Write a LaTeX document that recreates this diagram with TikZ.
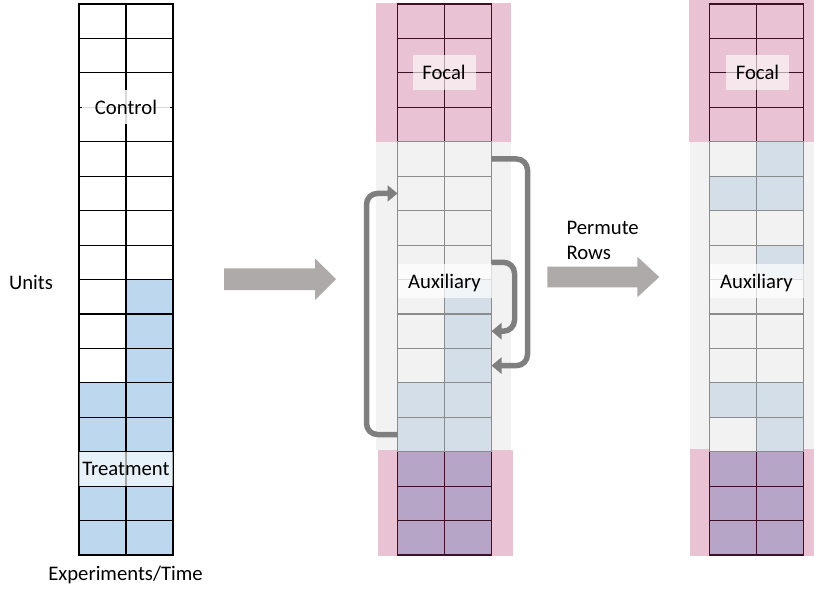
\documentclass[tikz,border=0pt]{standalone}
\usepackage{fontspec}
\setmainfont{Carlito}
\usetikzlibrary{arrows.meta}

\definecolor{treatblue}{HTML}{BDD7EE}
\definecolor{auxblue}{HTML}{D3DEE9}
\definecolor{focalpink}{HTML}{E9C3D3}
\definecolor{auxgray}{HTML}{F2F2F2}
\definecolor{treatpurple}{HTML}{B7A5C8}
\definecolor{darkmaroon}{HTML}{3D1026}
\definecolor{linegray}{HTML}{8C8C8C}
\definecolor{loopgray}{HTML}{7F7F7F}
\definecolor{biggray}{HTML}{AEAAAA}

\tikzset{
  cell/.style={draw=#1, line width=1.1pt, minimum width=47pt, minimum height=34.44pt,
    inner sep=0pt, outer sep=0pt},
  tag/.style={fill=white, fill opacity=#1, text opacity=1, inner sep=0pt, text depth=0pt},
  loop/.style={draw=loopgray, line width=5.5pt, rounded corners=11pt,
    -{Triangle[length=10pt,width=16pt]}}
}

\begin{document}
\begin{tikzpicture}[x=1pt, y=-1pt, font=\fontsize{20.7}{25}\selectfont]
    \useasboundingbox (0,0) rectangle (814,592);

    % backgrounds
    \fill[focalpink] (376,3) rectangle (511,141.7);
    \fill[auxgray] (376,141.7) rectangle (511,450);
    \fill[focalpink] (377.7,450) rectangle (512.7,555.7);
    \fill[focalpink] (689,0) rectangle (814,141.7);
    \fill[auxgray] (690,141.7) rectangle (814,449);
    \fill[focalpink] (690,449) rectangle (814,555.7);

    % original panel
    \foreach \r/\fl/\fr in {1/white/white, 2/white/white, 3/white/white, 4/white/white,
        5/white/white, 6/white/white, 7/white/white, 8/white/white,
        9/white/treatblue, 10/white/treatblue, 11/white/treatblue,
        12/treatblue/treatblue, 13/treatblue/treatblue, 14/treatblue/treatblue,
        15/treatblue/treatblue, 16/treatblue/treatblue} {
        \pgfmathsetmacro\yc{4+(\r-0.5)*34.44}
        \node[cell=black, fill=\fl] (L-\r-l) at (102.5,\yc) {};
        \node[cell=black, fill=\fr] (L-\r-r) at (149.5,\yc) {};
    }

    % focal rows
    \foreach \r in {1,...,4} {
        \pgfmathsetmacro\yc{4+(\r-0.5)*34.44}
        \node[cell=darkmaroon] (M-\r-l) at (421,\yc) {};
        \node[cell=darkmaroon] (M-\r-r) at (468,\yc) {};
        \node[cell=darkmaroon] (R-\r-l) at (733,\yc) {};
        \node[cell=darkmaroon] (R-\r-r) at (780,\yc) {};
    }
    % treated rows
    \foreach \r in {14,15,16} {
        \pgfmathsetmacro\yc{4+(\r-0.5)*34.44}
        \node[cell=darkmaroon, fill=treatpurple] (M-\r-l) at (421,\yc) {};
        \node[cell=darkmaroon, fill=treatpurple] (M-\r-r) at (468,\yc) {};
        \node[cell=darkmaroon, fill=treatpurple] (R-\r-l) at (733,\yc) {};
        \node[cell=darkmaroon, fill=treatpurple] (R-\r-r) at (780,\yc) {};
    }
    % auxiliary rows, before
    \foreach \r/\fl/\fr in {5/auxgray/auxgray, 6/auxgray/auxgray, 7/auxgray/auxgray,
        8/auxgray/auxgray, 9/auxgray/auxblue, 10/auxgray/auxblue, 11/auxgray/auxblue,
        12/auxblue/auxblue, 13/auxblue/auxblue} {
        \pgfmathsetmacro\yc{4+(\r-0.5)*34.44}
        \node[cell=linegray, fill=\fl] (M-\r-l) at (421,\yc) {};
        \node[cell=linegray, fill=\fr] (M-\r-r) at (468,\yc) {};
    }
    % auxiliary rows, permuted
    \foreach \r/\fl/\fr in {5/auxgray/auxblue, 6/auxblue/auxblue, 7/auxgray/auxgray,
        8/auxgray/auxblue, 9/auxgray/auxgray, 10/auxgray/auxgray, 11/auxgray/auxgray,
        12/auxblue/auxblue, 13/auxgray/auxblue} {
        \pgfmathsetmacro\yc{4+(\r-0.5)*34.44}
        \node[cell=linegray, fill=\fl] (R-\r-l) at (733,\yc) {};
        \node[cell=linegray, fill=\fr] (R-\r-r) at (780,\yc) {};
    }

    % labels
    \node[tag=0.85, minimum width=88pt, minimum height=34pt] (control) at (126,107) {Control};
    \node[tag=0.65, minimum width=94pt, minimum height=34.4pt] (treatment) at (126,468.8) {Treatment};
    \node[tag=0.6, minimum width=63pt, minimum height=35pt] (focalM) at (444,72.5) {Focal};
    \node[tag=0.6, minimum width=63pt, minimum height=35pt] (focalR) at (757.5,72.5) {Focal};
    \node[tag=0.7, minimum width=94pt, minimum height=34pt] (auxM) at (444.5,281) {Auxiliary};
    \node[tag=0.7, minimum width=94pt, minimum height=34pt] (auxR) at (756.5,281) {Auxiliary};
    \node (units) at (31,282) {Units};
    \node (time) at (125.5,575) {Experiments/Time};
    \node[align=left, anchor=west] (permute) at (563,240) {Permute\\Rows};

    % big arrows
    \fill[biggray] (224,268.3) -- (315,268.3) -- (315,258.3) -- (336,279.2)
        -- (315,300) -- (315,290) -- (224,290) -- cycle;
    \fill[biggray] (547.3,266.7) -- (637.3,266.7) -- (637.3,256.7) -- (659.3,277)
        -- (637.3,297.3) -- (637.3,287.3) -- (547.3,287.3) -- cycle;

    % row swaps
    \draw[loop] (M-13-l.west) -- ++(-31,0) |- (M-6-l.west);
    \draw[loop] (M-5-r.east) -- ++(36,0) |- (M-11-r.east);
    \draw[loop] (M-8-r.east) -- ++(23,0) |- (M-10-r.east);
\end{tikzpicture}
\end{document}
